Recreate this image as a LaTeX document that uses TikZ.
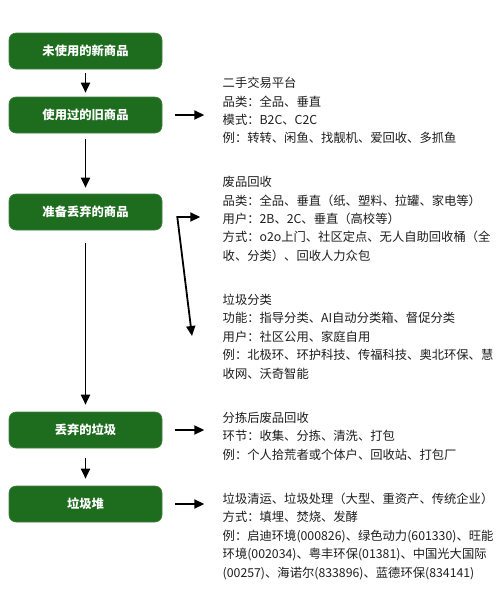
\documentclass[tikz,border=0pt]{standalone}
\usepackage{fontspec}
\setmainfont{Noto Sans CJK SC}
\usetikzlibrary{arrows.meta}
\definecolor{boxgreen}{RGB}{30,108,30}
\definecolor{txtgray}{RGB}{30,30,30}
\newcommand\txtblock[3]{%
  \foreach \l [count=\i from 0] in {#3} {%
    \node[txt] (#1-\i) at (222.5, {#2+18.4*\i}) {\l};
  }%
}
\begin{document}
\begin{tikzpicture}[x=1pt,y=-1pt,
  gbox/.style={fill=boxgreen, draw=boxgreen!85!white, line width=0.6pt,
    rounded corners=7pt, minimum width=153pt, minimum height=36pt,
    inner sep=0pt, text=white, font=\fontsize{12.3}{14}\selectfont\bfseries},
  txt/.style={inner sep=0pt, anchor=base west, text=txtgray,
    font=\fontsize{12.3}{14}\selectfont},
  arr/.style={line width=1.8pt, -{Triangle[length=10pt,width=9pt]}},
  arrb/.style={line width=1.8pt, {Triangle[length=10pt,width=9pt]}-{Triangle[length=10pt,width=9pt]}}
]
\useasboundingbox (0,0) rectangle (499,589);
\fill[white] (0,0) rectangle (499,589);

\node[gbox] (b1) at (85.5,51) {未使用的新商品};
\node[gbox] (b2) at (85.5,115) {使用过的旧商品};
\node[gbox] (b3) at (85.5,212) {准备丢弃的商品};
\node[gbox] (b4) at (85.5,430) {丢弃的垃圾};
\node[gbox] (b5) at (85.5,504) {垃圾堆};

\draw[arr, shorten <=4pt, shorten >=4pt] (b1.south) -- (b2.north);
\draw[arr, shorten <=6pt, shorten >=6pt] (b2.south) -- (b3.north);
\draw[arr, shorten <=13pt, shorten >=7pt] (b3.south) -- (b4.north);
\draw[arr, shorten <=10pt, shorten >=7pt] (b4.south) -- (b5.north);

\draw[arr] ([xshift=13pt]b2.east) -- ([xshift=42pt]b2.east);
\draw[arr] ([xshift=13pt]b4.east) -- ([xshift=42pt]b4.east);
\draw[arr] ([xshift=13pt]b5.east) -- ([xshift=42pt]b5.east);

\coordinate (br) at ([xshift=15pt,yshift=-5pt]b3.east);
\coordinate (brA) at ([xshift=23pt]br);
\coordinate (brB) at (192,336);
\draw[arrb, line join=miter] (brA) -- (br) -- (brB);

\txtblock{t1}{87.7}{{二手交易平台},{品类：全品、垂直},{模式：B2C、C2C},{例：转转、闲鱼、找靓机、爱回收、多抓鱼}}
\txtblock{t2}{186.7}{{废品回收},{品类：全品、垂直（纸、塑料、拉罐、家电等）},{用户：2B、2C、垂直（高校等）},{方式：o2o上门、社区定点、无人自助回收桶（全},{收、分类）、回收人力众包}}
\txtblock{t3}{304.5}{{垃圾分类},{功能：指导分类、AI自动分类箱、督促分类},{用户：社区公用、家庭自用},{例：北极环、环护科技、传福科技、奥北环保、慧},{收网、沃奇智能}}
\txtblock{t4}{422.5}{{分拣后废品回收},{环节：收集、分拣、清洗、打包},{例：个人拾荒者或个体户、回收站、打包厂}}
\txtblock{t5}{503.5}{{垃圾清运、垃圾处理（大型、重资产、传统企业）},{方式：填埋、焚烧、发酵},{例：启迪环境(000826)、绿色动力(601330)、旺能},{环境(002034)、粤丰环保(01381)、中国光大国际},{(00257)、海诺尔(833896)、蓝德环保(834141)}}
\end{tikzpicture}
\end{document}
